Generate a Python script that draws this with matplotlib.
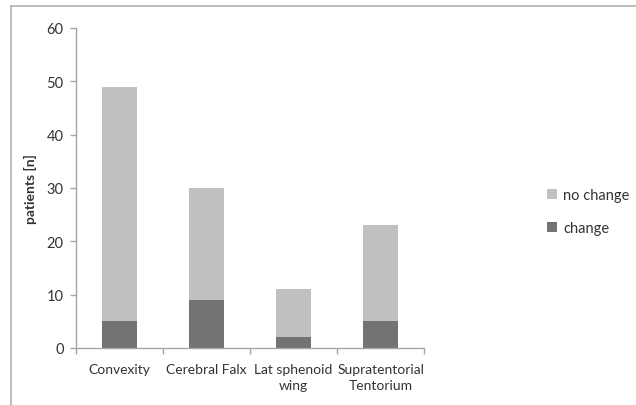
import numpy as np
import matplotlib.pyplot as plt
from matplotlib.lines import Line2D

# data
categories = ['Convexity', 'Cerebral Falx', 'Lat sphenoid\nwing', 'Supratentorial\nTentorium']
change = [5, 9, 2, 5]
no_change = [44, 21, 9, 18]

plt.rcParams['font.family'] = ['Lato', 'DejaVu Sans']
text_col = '#333333'
axis_col = '#a6a6a6'
fs = 10

fig = plt.figure(figsize=(6.36, 4.06), dpi=100)
ax = fig.add_axes([76 / 636, 1 - 349 / 406, 348 / 636, 320 / 406])

x = np.arange(len(categories))
ax.bar(x, change, width=0.4, color='#737373', label='change', zorder=2)
ax.bar(x, no_change, width=0.4, bottom=change, color='#c0c0c0',
       label='no change', zorder=2)

ax.set_xlim(-0.5, len(categories) - 0.5)
ax.set_ylim(0, 60)
ax.set_yticks(range(0, 61, 10))
ax.set_xticks(x)
ax.set_xticklabels(categories, fontsize=fs, color=text_col, linespacing=1.35)
ax.set_xticks(np.arange(-0.5, len(categories)), minor=True)
ax.tick_params(axis='x', which='major', length=0, pad=11)
ax.tick_params(axis='x', which='minor', length=4, color=axis_col, width=1)
ax.tick_params(axis='y', length=4, color=axis_col, width=1,
               labelsize=10.5, labelcolor=text_col, pad=5)

for s in ['top', 'right']:
    ax.spines[s].set_visible(False)
for s in ['left', 'bottom']:
    ax.spines[s].set_color(axis_col)
    ax.spines[s].set_linewidth(1)

ax.set_ylabel('patients [n]', fontsize=10, fontweight='bold', color=text_col,
              labelpad=7)

handles, labels = ax.get_legend_handles_labels()
leg = fig.legend(handles[::-1], labels[::-1], loc='upper left',
                 bbox_to_anchor=(534 / 636, 1 - 176 / 406), frameon=False,
                 fontsize=10.5, handlelength=0.7, handleheight=0.7,
                 handletextpad=0.4, labelspacing=1.3, labelcolor=text_col)

# outer frame of the picture
fig.add_artist(Line2D([11 / 636, 11 / 636], [0, 1 - 7 / 406],
                      transform=fig.transFigure, color='#b0b0b0', lw=1.2))
fig.add_artist(Line2D([11 / 636, 1], [1 - 7 / 406, 1 - 7 / 406],
                      transform=fig.transFigure, color='#b0b0b0', lw=1.2))

fig.savefig('out.png', dpi=100)
